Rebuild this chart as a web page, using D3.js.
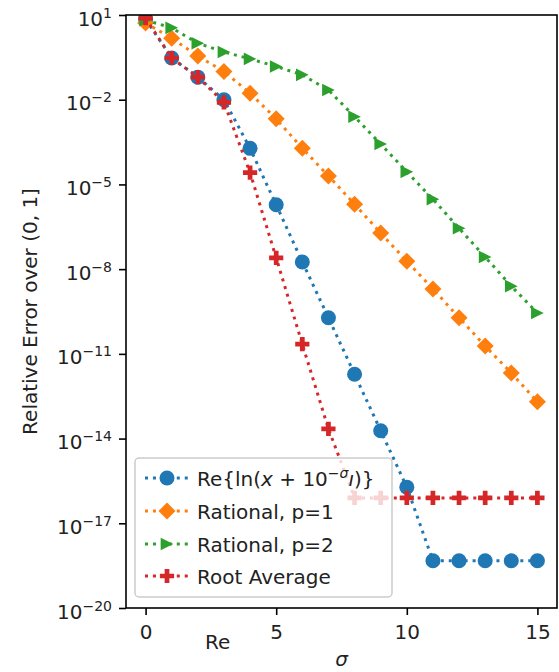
<!DOCTYPE html>
<html>
<head>
<meta charset="utf-8">
<script src="https://cdn.jsdelivr.net/npm/d3@7"></script>
<style>
body { margin: 0; background: #fff; }
svg { font-family: "DejaVu Sans", sans-serif; }
</style>
</head>
<body>
<svg width="559" height="672"></svg>
<script>
var sigma = [0, 1, 2, 3, 4, 5, 6, 7, 8, 9, 10, 11, 12, 13, 14, 15];
var reLn = [7.0, 3.0e-1, 6.3e-2, 1.0e-2, 1.9e-4, 1.9e-6, 1.8e-8, 1.9e-10, 1.9e-12,
  1.9e-14, 1.9e-16, 4.7e-19, 4.7e-19, 4.7e-19, 4.7e-19, 4.7e-19];
var rational1 = [5.2, 1.5, 3.5e-1, 1.0e-1, 1.7e-2, 2.1e-3, 1.9e-4, 2.0e-5, 2.0e-6,
  1.9e-7, 1.9e-8, 2.0e-9, 1.9e-10, 1.9e-11, 2.1e-12, 2.0e-13];
var rational2 = [6.6, 3.5, 1.0, 4.9e-1, 2.8e-1, 1.5e-1, 7.6e-2, 2.2e-2, 2.5e-3,
  2.7e-4, 2.8e-5, 3.0e-6, 2.8e-7, 2.7e-8, 2.5e-9, 2.8e-10];
var rootAvg = [7.8, 3.0e-1, 6.3e-2, 8.0e-3, 2.6e-5, 2.5e-8, 2.2e-11, 2.2e-14, 7.9e-17,
  7.9e-17, 7.9e-17, 7.9e-17, 7.9e-17, 7.9e-17, 7.9e-17, 7.9e-17];
var seriesNames = ['reLn', 'rational1', 'rational2', 'rootAvg'];
var colors = ['#1f77b4', '#ff7f0e', '#2ca02c', '#d62728'];
var xTicks = [0, 5, 10, 15];
var yTicks = [1e1, 1e-2, 1e-5, 1e-8, 1e-11, 1e-14, 1e-17, 1e-20];
var yTickExp = ['1', '\u22122', '\u22125', '\u22128', '\u221211', '\u221214', '\u221217', '\u221220'];

var plotLeft = 126, plotRight = 557, plotTop = 15, plotBottom = 608;

// custom marker shapes like matplotlib's 'D' and '>'
var squareDiamond = {
  draw: function (ctx, size) {
    var h = Math.sqrt(size) / 2;
    ctx.moveTo(0, -h);
    ctx.lineTo(h, 0);
    ctx.lineTo(0, h);
    ctx.lineTo(-h, 0);
    ctx.closePath();
  }
};
var triRight = {
  draw: function (ctx, size) {
    var h = Math.sqrt(size) / 2;
    ctx.moveTo(h, 0);
    ctx.lineTo(-h, -h);
    ctx.lineTo(-h, h);
    ctx.closePath();
  }
};
var symbols = [
  d3.symbol().type(d3.symbolCircle).size(177),
  d3.symbol().type(squareDiamond).size(289),
  d3.symbol().type(triRight).size(160),
  d3.symbol().type(d3.symbolCross).size(112)
];

function drawChart() {
  var svg = d3.select('svg');
  svg.selectAll('*').remove();
  var data = [reLn, rational1, rational2, rootAvg];

  var x = d3.scaleLinear().domain([-0.75, 15.75]).range([plotLeft, plotRight]);
  var y = d3.scaleLog().domain([1e-20, 10]).range([plotBottom, plotTop]);

  svg.append('clipPath')
    .attr('id', 'plotclip')
    .append('rect')
    .attr('x', plotLeft)
    .attr('y', plotTop)
    .attr('width', plotRight - plotLeft)
    .attr('height', plotBottom - plotTop);

  var plot = svg.append('g').attr('clip-path', 'url(#plotclip)');
  var line = d3.line()
    .x(function (d) { return x(d[0]); })
    .y(function (d) { return y(d[1]); });

  data.forEach(function (vals, k) {
    var pts = sigma.map(function (s, i) { return [s, vals[i]]; });
    var g = plot.append('g').attr('class', seriesNames[k]);
    g.append('path')
      .attr('d', line(pts))
      .attr('fill', 'none')
      .attr('stroke', colors[k])
      .attr('stroke-width', 3)
      .attr('stroke-dasharray', '3,4.95');
    g.selectAll('path.mark')
      .data(pts)
      .enter()
      .append('path')
      .attr('class', 'mark')
      .attr('transform', function (d) {
        return 'translate(' + x(d[0]) + ',' + y(d[1]) + ')';
      })
      .attr('d', symbols[k]())
      .attr('fill', colors[k]);
  });

  // axes
  var xAxis = svg.append('g')
    .attr('transform', 'translate(0,' + plotBottom + ')')
    .call(d3.axisBottom(x).tickValues(xTicks).tickSize(7).tickPadding(10));
  var yAxis = svg.append('g')
    .attr('transform', 'translate(' + plotLeft + ',0)')
    .call(d3.axisLeft(y).tickValues(yTicks).tickSize(7).tickPadding(7));
  [xAxis, yAxis].forEach(function (a) {
    a.select('.domain').remove();
    a.attr('font-family', null).attr('font-size', 20);
    a.selectAll('.tick line').attr('stroke', '#000').attr('stroke-width', 1.6);
    a.selectAll('.tick text').attr('fill', '#222');
  });
  yAxis.selectAll('.tick text')
    .attr('dy', 10)
    .each(function (d, i) {
      var t = d3.select(this);
      t.text('');
      t.append('tspan').text('10');
      t.append('tspan').attr('dy', -8).attr('font-size', 14).text(yTickExp[i]);
    });

  svg.append('rect')
    .attr('x', plotLeft)
    .attr('y', plotTop)
    .attr('width', plotRight - plotLeft)
    .attr('height', plotBottom - plotTop)
    .attr('fill', 'none')
    .attr('stroke', '#000')
    .attr('stroke-width', 1.6);

  // labels
  svg.append('text')
    .attr('transform', 'translate(37,' + (plotTop + plotBottom) / 2 + ') rotate(-90)')
    .attr('text-anchor', 'middle')
    .attr('font-size', 20)
    .attr('fill', '#222')
    .text('Relative Error over (0, 1]');
  svg.append('text')
    .attr('x', 205)
    .attr('y', 649)
    .attr('font-size', 20)
    .attr('fill', '#222')
    .text('Re');
  svg.append('text')
    .attr('x', (plotLeft + plotRight) / 2)
    .attr('y', 666)
    .attr('text-anchor', 'middle')
    .attr('font-size', 20)
    .attr('font-style', 'italic')
    .attr('fill', '#222')
    .text('\u03c3');

  // legend
  var leg = svg.append('g');
  leg.append('rect')
    .attr('x', 135)
    .attr('y', 458)
    .attr('width', 257)
    .attr('height', 139)
    .attr('rx', 4)
    .attr('fill', '#fff')
    .attr('fill-opacity', 0.8)
    .attr('stroke', '#ccc')
    .attr('stroke-width', 1.5);
  var rows = [478, 511, 544, 576];
  rows.forEach(function (ry, k) {
    leg.append('line')
      .attr('x1', 145).attr('x2', 190)
      .attr('y1', ry).attr('y2', ry)
      .attr('stroke', colors[k])
      .attr('stroke-width', 3)
      .attr('stroke-dasharray', '3,4.95');
    leg.append('path')
      .attr('transform', 'translate(167,' + ry + ')')
      .attr('d', symbols[k]())
      .attr('fill', colors[k]);
    var t = leg.append('text')
      .attr('x', 197)
      .attr('y', ry + 8)
      .attr('font-size', 20)
      .attr('fill', '#222');
    if (k === 0) {
      t.append('tspan').text('Re{ln(');
      t.append('tspan').attr('font-style', 'italic').text('x');
      t.append('tspan').text(' + 10');
      t.append('tspan').attr('dy', -8).attr('font-size', 14).text('\u2212');
      t.append('tspan').attr('font-size', 14).attr('font-style', 'italic').text('\u03c3');
      t.append('tspan').attr('dy', 8).attr('font-style', 'italic').text('\u0131');
      t.append('tspan').text(')}');
    } else {
      t.text(['', 'Rational, p=1', 'Rational, p=2', 'Root Average'][k]);
    }
  });
}

drawChart();
</script>
</body>
</html>
